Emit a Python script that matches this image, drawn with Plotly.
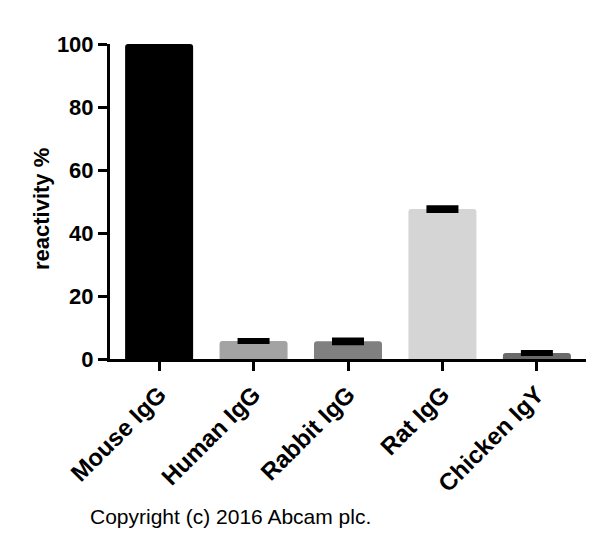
import plotly.graph_objects as go

categories = ["Mouse IgG", "Human IgG", "Rabbit IgG", "Rat IgG", "Chicken IgY"]
reactivity = [100.0, 5.7, 5.6, 47.6, 1.9]
errors = [0.0, 0.3, 0.6, 0.6, 0.3]
bar_colors = ["#000000", "#a3a3a3", "#808080", "#d5d5d5", "#6a6a6a"]
y_ticks = [0, 20, 40, 60, 80, 100]

fig = go.Figure()
fig.add_trace(go.Bar(
    x=categories,
    y=reactivity,
    width=0.72,
    marker=dict(color=bar_colors, line=dict(width=0), cornerradius=3),
    error_y=dict(type="data", array=errors, visible=True,
                 color="#000000", thickness=4, width=16),
))

fig.update_layout(
    width=600,
    height=550,
    margin=dict(l=102, r=22, t=36, b=199),
    plot_bgcolor="white",
    paper_bgcolor="white",
    showlegend=False,
    font=dict(family="Liberation Sans, Arial", color="black"),
)
fig.update_xaxes(
    range=[-0.52, 4.52],
    showline=True, linewidth=3, linecolor="black",
    ticks="outside", ticklen=9, tickwidth=3, tickcolor="black",
    tickangle=-45,
    tickfont=dict(size=24, weight="bold"),
    showgrid=False,
)
fig.update_yaxes(
    range=[0, 100],
    tickvals=y_ticks,
    showline=True, linewidth=3, linecolor="black",
    ticks="outside", ticklen=9, tickwidth=3, tickcolor="black",
    tickfont=dict(size=22, weight="bold"),
    showgrid=False, zeroline=False,
)
# y axis title placed by hand so it sits where the original one does
fig.add_annotation(
    text="reactivity %", textangle=-90,
    xref="paper", yref="paper", x=-0.145, y=0.476,
    xanchor="center", yanchor="middle", showarrow=False,
    font=dict(size=22, weight="bold", family="Liberation Sans, Arial", color="black"),
)
fig.add_annotation(
    text="Copyright (c) 2016 Abcam plc.",
    xref="paper", yref="paper", x=-0.046, y=-0.5,
    xanchor="left", yanchor="middle", showarrow=False,
    font=dict(size=21, family="Liberation Sans, Arial", color="black"),
)

fig.write_html("out.html")
